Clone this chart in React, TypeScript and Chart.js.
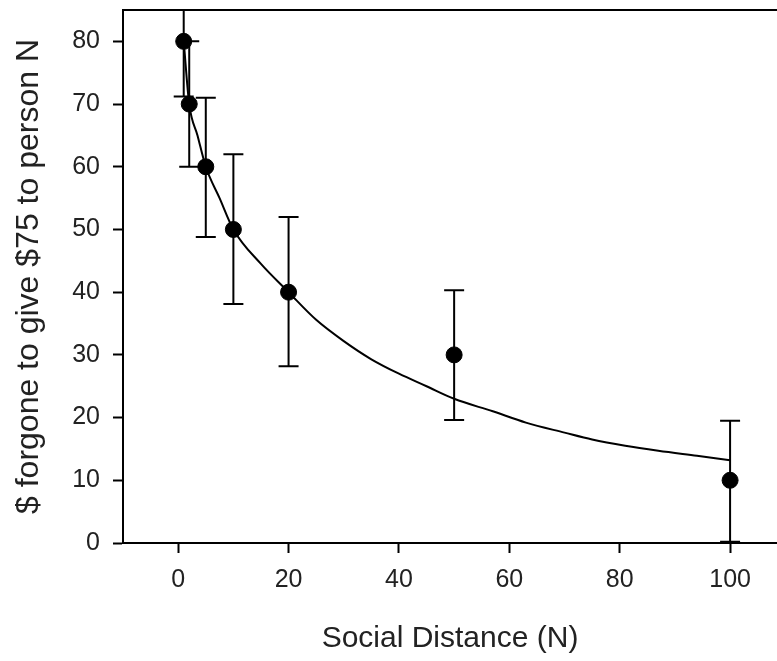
import React, { useEffect, useRef } from "react";
import { Chart, registerables } from "chart.js";

Chart.register(...registerables);

// Observed means with error bars
const pointN = [1, 2, 5, 10, 20, 50, 100];
const pointValue = [80, 70, 60, 50, 40, 30, 10];
const errorHigh = [89, 80, 71, 62, 52, 40.3, 19.5];
const errorLow = [71.2, 60, 48.8, 38.1, 28.2, 19.6, 0.2];

// Fitted curve
const curveN = [1, 2, 3.5, 5, 7.5, 10, 15, 20, 25, 30, 35, 40, 45, 50, 57, 63, 70, 75, 81, 87, 94, 100];
const curveValue = [80, 70, 65, 60, 55, 50, 44.5, 40, 35.6, 32.2, 29.3, 27, 25, 23, 21, 19.2, 17.6, 16.5, 15.5, 14.7, 13.9, 13.2];

const xTicks = [0, 20, 40, 60, 80, 100];
const yTicks = [0, 10, 20, 30, 40, 50, 60, 70, 80];
const xTitle = "Social Distance (N)";
const yTitle = "$ forgone to give $75 to person N";

const FONT = "'Liberation Sans', Arial, sans-serif";
const TEXT = "#222";

const errorBarPlugin = {
  id: "errorBars",
  beforeDatasetsDraw(chart: any) {
    const { ctx, chartArea, scales } = chart;
    const xs = scales.x;
    const ys = scales.y;
    ctx.save();
    ctx.beginPath();
    ctx.rect(chartArea.left, chartArea.top, chartArea.right - chartArea.left, chartArea.bottom - chartArea.top);
    ctx.clip();
    ctx.strokeStyle = "#000";
    ctx.lineWidth = 2;
    const half = 10;
    for (let i = 0; i < pointN.length; i++) {
      const px = xs.getPixelForValue(pointN[i]);
      const hi = ys.getPixelForValue(errorHigh[i]);
      const lo = ys.getPixelForValue(errorLow[i]);
      ctx.beginPath();
      ctx.moveTo(px, hi);
      ctx.lineTo(px, lo);
      ctx.moveTo(px - half, hi);
      ctx.lineTo(px + half, hi);
      ctx.moveTo(px - half, lo);
      ctx.lineTo(px + half, lo);
      ctx.stroke();
    }
    ctx.restore();
  },
  afterDraw(chart: any) {
    const { ctx, chartArea } = chart;
    ctx.save();
    ctx.strokeStyle = "#000";
    ctx.lineWidth = 2;
    ctx.beginPath();
    ctx.moveTo(chartArea.left - 1, chartArea.top);
    ctx.lineTo(chartArea.right, chartArea.top);
    ctx.stroke();
    ctx.restore();
  },
};

function zeroPadding(s: any) {
  s.paddingTop = 0;
  s.paddingBottom = 0;
  s.paddingLeft = 0;
  s.paddingRight = 0;
}

export default function App() {
  const canvasRef = useRef<HTMLCanvasElement | null>(null);

  useEffect(() => {
    if (!canvasRef.current) return;
    const chart = new Chart(canvasRef.current, {
      type: "scatter",
      data: {
        datasets: [
          {
            label: "Observed",
            data: pointN.map((n, i) => ({ x: n, y: pointValue[i] })),
            backgroundColor: "#000",
            borderColor: "#000",
            pointRadius: 8,
            pointHoverRadius: 8,
            showLine: false,
          },
          {
            label: "Fit",
            data: curveN.map((n, i) => ({ x: n, y: curveValue[i] })),
            borderColor: "#000",
            borderWidth: 2,
            pointRadius: 0,
            showLine: true,
            cubicInterpolationMode: "monotone",
            fill: false,
          },
        ],
      },
      options: {
        animation: false,
        responsive: true,
        maintainAspectRatio: false,
        layout: { autoPadding: false, padding: { top: 10, left: 0, right: 0, bottom: 0 } },
        plugins: {
          legend: { display: false },
          tooltip: { enabled: false },
        },
        scales: {
          x: {
            type: "linear",
            min: -10,
            max: 108.5,
            afterBuildTicks: (s: any) => {
              s.ticks = xTicks.map((v) => ({ value: v }));
            },
            afterFit: (s: any) => {
              s.height = 118;
              zeroPadding(s);
            },
            ticks: {
              font: { family: FONT, size: 25 },
              color: TEXT,
              padding: 12,
              autoSkip: false,
              maxRotation: 0,
            },
            grid: {
              display: true,
              drawOnChartArea: false,
              drawTicks: true,
              tickLength: 10,
              tickWidth: 2,
              tickColor: "#000",
            },
            border: { display: true, color: "#000", width: 2 },
            title: {
              display: true,
              text: xTitle,
              color: TEXT,
              font: { family: FONT, size: 30 },
              padding: { top: 0, bottom: 4 },
            },
          },
          y: {
            type: "linear",
            min: 0,
            max: 85,
            afterBuildTicks: (s: any) => {
              s.ticks = yTicks.map((v) => ({ value: v }));
            },
            afterFit: (s: any) => {
              s.width = 123;
              zeroPadding(s);
            },
            ticks: {
              font: { family: FONT, size: 25 },
              color: TEXT,
              padding: 13,
              autoSkip: false,
            },
            grid: {
              display: true,
              drawOnChartArea: false,
              drawTicks: true,
              tickLength: 10,
              tickWidth: 2,
              tickColor: "#000",
            },
            border: { display: true, color: "#000", width: 2 },
            title: {
              display: true,
              text: yTitle,
              color: TEXT,
              font: { family: FONT, size: 32 },
              padding: { top: 10, bottom: 0 },
            },
          },
        },
      },
      plugins: [errorBarPlugin],
    });
    return () => chart.destroy();
  }, []);

  return (
    <div style={{ position: "absolute", left: 0, top: 0, width: 777, height: 661, background: "#fff" }}>
      <canvas ref={canvasRef} />
    </div>
  );
}
